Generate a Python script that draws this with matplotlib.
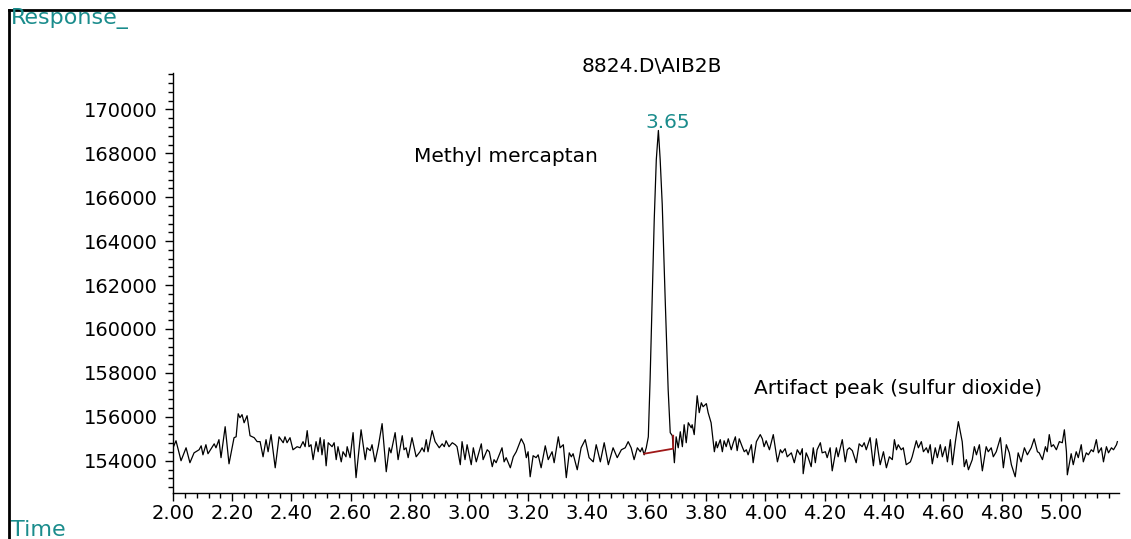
import matplotlib.pyplot as plt
from matplotlib.ticker import MultipleLocator, FormatStrFormatter
from matplotlib.lines import Line2D

# retention time (min) and detector response
time = [2.000, 2.010, 2.027, 2.044, 2.057, 2.071, 2.088, 2.095, 2.101, 2.111,
        2.118, 2.139, 2.145, 2.155, 2.162, 2.176, 2.189, 2.206, 2.213, 2.220,
        2.226, 2.233, 2.240, 2.250, 2.260, 2.274, 2.284, 2.294, 2.304, 2.314,
        2.321, 2.331, 2.345, 2.358, 2.372, 2.378, 2.385, 2.395, 2.405, 2.419,
        2.429, 2.439, 2.446, 2.453, 2.459, 2.466, 2.473, 2.483, 2.490, 2.497,
        2.503, 2.510, 2.517, 2.524,
        2.537, 2.544, 2.551, 2.557, 2.568, 2.574, 2.584, 2.588, 2.598, 2.608,
        2.618, 2.635, 2.649, 2.655, 2.666, 2.672, 2.682, 2.693, 2.706, 2.720,
        2.730, 2.736, 2.750, 2.760, 2.774, 2.780, 2.787, 2.794, 2.807, 2.821,
        2.834, 2.841, 2.848, 2.855, 2.861, 2.875, 2.885, 2.899, 2.909, 2.916,
        2.922, 2.932, 2.943, 2.953, 2.959, 2.970, 2.976, 2.986, 2.993, 3.007,
        3.014, 3.024, 3.041, 3.047, 3.061,
        3.068, 3.078, 3.084, 3.091, 3.111, 3.118, 3.125, 3.139, 3.149, 3.159,
        3.176, 3.186, 3.193, 3.199, 3.206, 3.216, 3.226, 3.233, 3.243, 3.257,
        3.267, 3.280, 3.287, 3.301, 3.307, 3.318, 3.328, 3.338, 3.345, 3.351,
        3.365, 3.378, 3.392, 3.405, 3.419, 3.429, 3.443, 3.456, 3.470, 3.486,
        3.500, 3.514, 3.527, 3.537, 3.547, 3.557, 3.568, 3.578, 3.584, 3.591,
        3.598, 3.605, 3.611, 3.618, 3.625, 3.632, 3.639, 3.645, 3.652, 3.662,
        3.672, 3.679, 3.686, 3.693,
        3.699, 3.706, 3.713, 3.720, 3.726, 3.733, 3.740, 3.750, 3.753, 3.760,
        3.770, 3.777, 3.784, 3.790, 3.801, 3.807, 3.817, 3.828, 3.834, 3.838,
        3.848, 3.855, 3.861, 3.868, 3.875, 3.885, 3.892, 3.899, 3.905, 3.912,
        3.922, 3.929, 3.936, 3.942, 3.953, 3.959, 3.970, 3.983, 3.990, 3.996,
        4.003, 4.014, 4.027, 4.041, 4.051, 4.057, 4.067, 4.074, 4.088, 4.098,
        4.108, 4.118, 4.125, 4.128, 4.138, 4.145,
        4.155, 4.162, 4.169, 4.175, 4.186, 4.192, 4.203, 4.209, 4.219, 4.226,
        4.240, 4.246, 4.260, 4.270, 4.277, 4.284, 4.294, 4.307, 4.317, 4.327,
        4.334, 4.341, 4.354, 4.365, 4.375, 4.388, 4.399, 4.409, 4.419, 4.429,
        4.436, 4.443, 4.449, 4.459, 4.466, 4.476, 4.490, 4.496, 4.510, 4.517,
        4.527, 4.534, 4.544, 4.550, 4.557, 4.564, 4.574, 4.581, 4.591, 4.598,
        4.608, 4.615, 4.625, 4.632, 4.642, 4.652, 4.665, 4.672, 4.679, 4.686,
        4.699, 4.706, 4.713, 4.723, 4.733, 4.746, 4.753, 4.763, 4.770, 4.780,
        4.794, 4.804, 4.814, 4.824, 4.831, 4.844, 4.854, 4.864, 4.875, 4.885,
        4.898, 4.908, 4.919, 4.925, 4.936, 4.946, 4.952, 4.959, 4.966, 4.973,
        4.983, 4.993, 5.003, 5.010, 5.017, 5.020, 5.033, 5.040, 5.050, 5.057,
        5.067, 5.074, 5.084, 5.091, 5.101, 5.108, 5.118, 5.125, 5.135, 5.142,
        5.152, 5.159, 5.169, 5.176, 5.186, 5.189]
response = [154590, 154910, 154000, 154590, 153910, 154360, 154500, 154680, 154270, 154730,
            154320, 154770, 154590, 154960, 154140, 155550, 153860, 155050, 155090, 156140,
            155960, 156100, 155730, 156050, 155140, 155050, 154870, 154870, 154180, 154960,
            154410, 155190, 153680, 155090, 154820, 155090, 154820, 155050, 154500, 154640,
            154590, 154870, 154640, 155370, 154640, 154730, 154050, 154870, 154410, 155050,
            154270, 154960, 153770, 154820,
            154640, 154820, 154050, 154640, 153950, 154410, 154180, 154640, 154140, 155280,
            153230, 155410, 154050, 154590, 154460, 154730, 153950, 154640, 155690, 153500,
            154590, 154360, 155280, 154050, 155140, 154500, 154590, 154140, 155050, 154180,
            154410, 154590, 154410, 154960, 154410, 155370, 154870, 154590, 154770, 154640,
            154910, 154640, 154820, 154730, 154640, 153820, 154870, 154050, 154730, 153820,
            154590, 153950, 154770, 154050, 154500,
            154410, 153730, 154050, 153910, 154590, 153950, 154140, 153680, 154180, 154410,
            155000, 154730, 154140, 154410, 153270, 154230, 154140, 154270, 153680, 154680,
            154050, 154410, 153910, 155090, 154590, 154730, 153230, 154360, 154180, 154320,
            153590, 154590, 154960, 154140, 153950, 154730, 153950, 154820, 153820, 154590,
            154140, 154500, 154590, 154870, 154590, 154050, 154590, 154410, 154590, 154270,
            154590, 155090, 157690, 161340, 164990, 167720, 169040, 167720, 165670, 161340,
            157240, 155280, 155140, 153910,
            155090, 154590, 155320, 154640, 155640, 154820, 155730, 155500, 155640, 155190,
            156960, 156190, 156640, 156460, 156600, 156190, 155730, 154410, 154870, 154590,
            154960, 154410, 154910, 154640, 155000, 154500, 154820, 155090, 154460, 155000,
            154640, 154410, 154500, 154270, 154730, 153910, 154870, 155190, 155000, 154640,
            154910, 154500, 155190, 153950, 154500, 154360, 154550, 154180, 154360, 153910,
            154500, 154270, 154550, 153410, 154360, 154140,
            153730, 154590, 153910, 154500, 154820, 154360, 154410, 154140, 154590, 153540,
            154590, 154180, 154960, 153950, 154500, 154590, 154460, 153910, 154770, 154640,
            154820, 154500, 155050, 153770, 155000, 153820, 154410, 153680, 154180, 154050,
            154960, 154500, 154730, 154500, 154590, 153820, 153950, 154180, 154910, 154590,
            154870, 154410, 154590, 154360, 154730, 153860, 154590, 154140, 154730, 154180,
            154640, 153950, 154960, 153820, 154870, 155780, 154870, 153730, 154050, 153590,
            154050, 154640, 154270, 154730, 153540, 154640, 154410, 154590, 154180, 154410,
            155050, 153680, 154730, 154360, 153820, 153270, 154360, 153950, 154590, 154270,
            154590, 155000, 154410, 154360, 154050, 154640, 154410, 155190, 154640, 154730,
            154500, 154870, 154820, 155410, 154410, 153360, 154320, 153820, 154410, 154140,
            154730, 153950, 154360, 154270, 154500, 154410, 154960, 154360, 154590, 153950,
            154640, 154360, 154590, 154500, 154730, 154870]

# integration baseline under the 3.65 peak
base_t = [3.591, 3.689, 3.689]
base_v = [154320, 154550, 155140]

teal = '#1a8c8c'
plt.rcParams['font.family'] = ['DejaVu Sans']

fig = plt.figure(figsize=(11.31, 5.39), dpi=100)
ax = fig.add_axes([0.153, 0.0853, 0.836, 0.779])

ax.plot(time, response, color='black', lw=0.9)
ax.plot(base_t, base_v, color='#a01818', lw=1.3)

ax.set_xlim(2.0, 5.193)
ax.set_ylim(152530, 171650)

ax.xaxis.set_major_locator(MultipleLocator(0.2))
ax.xaxis.set_minor_locator(MultipleLocator(0.04))
ax.xaxis.set_major_formatter(FormatStrFormatter('%.2f'))
ax.yaxis.set_major_locator(MultipleLocator(2000))
ax.yaxis.set_minor_locator(MultipleLocator(400))
ax.yaxis.set_major_formatter(FormatStrFormatter('%d'))

ax.spines['top'].set_visible(False)
ax.spines['right'].set_visible(False)
for s in ['left', 'bottom']:
    ax.spines[s].set_linewidth(1.0)
ax.tick_params(which='major', length=6, width=1, labelsize=14, pad=2)
ax.tick_params(which='minor', length=3.5, width=1)
ax.tick_params(axis='y', pad=5)

ax.text(3.125, 167860, 'Methyl mercaptan', fontsize=14.5, ha='center', va='center')
ax.text(4.449, 157280, 'Artifact peak (sulfur dioxide)', fontsize=14.5, ha='center', va='center')
ax.text(3.669, 169400, '3.65', fontsize=14.5, color=teal, ha='center', va='center')

fig.text(0.5765, 0.876, '8824.D\\AIB2B', fontsize=14.5, ha='center', va='center')
fig.text(0.010, 0.966, 'Response_', fontsize=16, color=teal, ha='left', va='center')
fig.text(0.010, 0.006, 'Time', fontsize=16, color=teal, ha='left', va='baseline')

# outer frame (left and top edges)
fig.add_artist(Line2D([0.008, 0.008], [0.0, 0.9815], color='black', lw=2))
fig.add_artist(Line2D([0.008, 1.0], [0.9815, 0.9815], color='black', lw=2))

fig.savefig('out.png', dpi=100)
